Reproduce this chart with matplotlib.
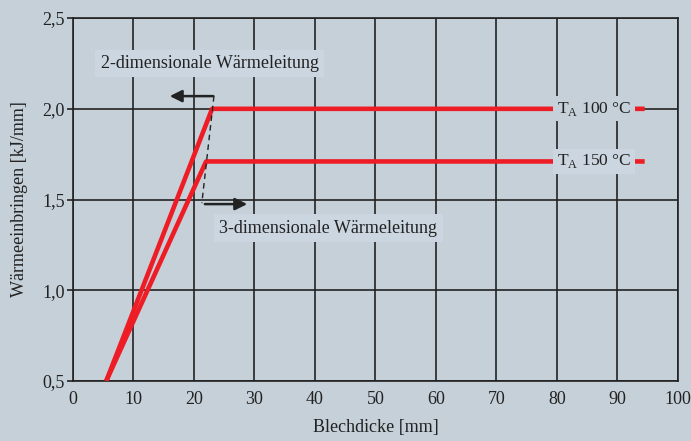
import matplotlib.pyplot as plt

# Blechdicke [mm] / Wärmeeinbringen [kJ/mm]
x_100 = [5.5, 23.0, 94.5]
y_100 = [0.5, 2.0, 2.0]
x_150 = [5.5, 22.0, 94.5]
y_150 = [0.5, 1.71, 1.71]

# Grenze zwischen 2- und 3-dimensionaler Wärmeleitung
x_grenze = [23.3, 21.3]
y_grenze = [2.07, 1.48]

xticks = [0, 10, 20, 30, 40, 50, 60, 70, 80, 90, 100]
yticks = [0.5, 1.0, 1.5, 2.0, 2.5]
ytick_labels = ['0,5', '1,0', '1,5', '2,0', '2,5']

bg = '#c5d0d8'
box = '#cbd6e0'
red = '#ee1c25'

plt.rcParams['font.family'] = ['Liberation Serif', 'DejaVu Serif']

fig = plt.figure(figsize=(6.91, 4.41), dpi=100, facecolor=bg)
ax = fig.add_axes([0.1056, 0.136, 0.8755, 0.823])
ax.set_facecolor(bg)

ax.set_xlim(0, 100)
ax.set_ylim(0.5, 2.5)
ax.set_xticks(xticks)
ax.set_yticks(yticks)
ax.set_yticklabels(ytick_labels)
ax.grid(True, color='#222222', linewidth=1.2)
ax.set_axisbelow(True)
for s in ax.spines.values():
    s.set_color('#222222')
    s.set_linewidth(1.2)
ax.tick_params(axis='x', length=0, pad=7, labelsize=13, colors='#222222')
ax.tick_params(axis='y', length=4, width=1.2, pad=2, labelsize=13, colors='#222222')

ax.plot(x_100, y_100, color=red, linewidth=3.3, solid_capstyle='butt', zorder=3)
ax.plot(x_150, y_150, color=red, linewidth=3.3, solid_capstyle='butt', zorder=3)

ax.plot(x_grenze, y_grenze, color='#222222', linewidth=1.0, linestyle=(0, (4, 3)), zorder=4)
ax.annotate('', xy=(16.0, 2.07), xytext=(23.2, 2.07),
            arrowprops=dict(arrowstyle='-|>', color='#222222', lw=1.8,
                            mutation_scale=18, shrinkA=0, shrinkB=0), zorder=4)
ax.annotate('', xy=(28.8, 1.475), xytext=(21.8, 1.475),
            arrowprops=dict(arrowstyle='-|>', color='#222222', lw=1.8,
                            mutation_scale=18, shrinkA=0, shrinkB=0), zorder=4)

ax.text(4.6, 2.25, '2-dimensionale Wärmeleitung', fontsize=13, color='#222222',
        va='center', ha='left', zorder=5,
        bbox=dict(boxstyle='square,pad=0.3', facecolor=box, edgecolor='none'))
ax.text(24.2, 1.343, '3-dimensionale Wärmeleitung', fontsize=13, color='#222222',
        va='center', ha='left', zorder=5,
        bbox=dict(boxstyle='square,pad=0.3', facecolor=box, edgecolor='none'))

ax.text(80.0, 2.0, r'T$_\mathregular{A}$ 100 °C', fontsize=12.5, color='#222222',
        va='center', ha='left', zorder=5,
        bbox=dict(boxstyle='square,pad=0.2', facecolor=bg, edgecolor='none'))
ax.text(80.0, 1.71, r'T$_\mathregular{A}$ 150 °C', fontsize=12.5, color='#222222',
        va='center', ha='left', zorder=5,
        bbox=dict(boxstyle='square,pad=0.2', facecolor=box, edgecolor='none'))

ax.set_xlabel('Blechdicke [mm]', fontsize=13, color='#222222', labelpad=8)
ax.set_ylabel('Wärmeeinbringen [kJ/mm]', fontsize=13, color='#222222', labelpad=10)

fig.savefig('out.png', dpi=100, facecolor=bg)
